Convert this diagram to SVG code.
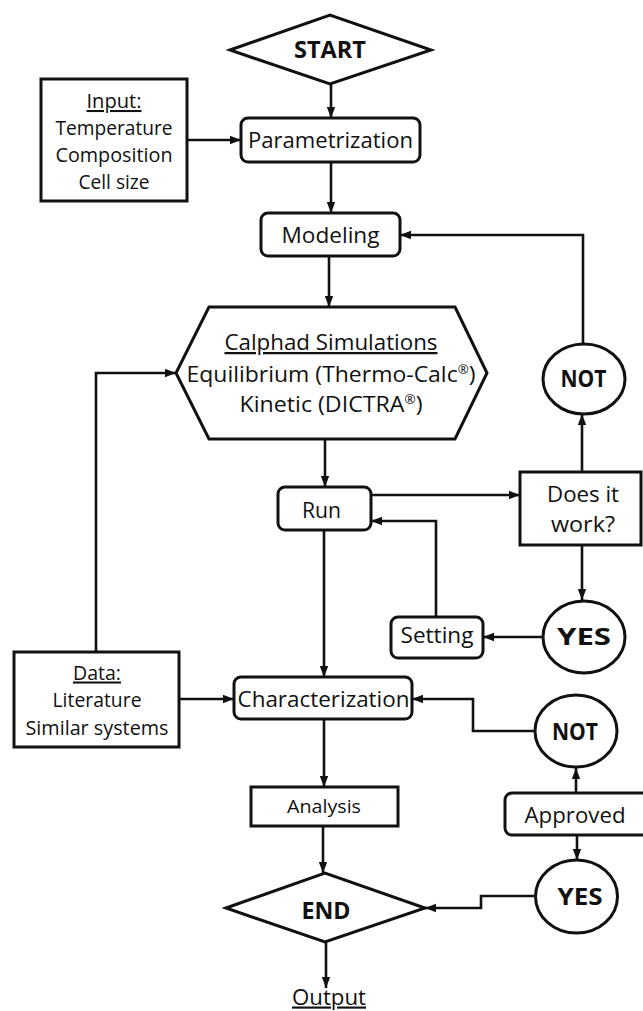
<svg xmlns="http://www.w3.org/2000/svg" width="643" height="1011" viewBox="0 0 643 1011">
<defs>
<marker id="ah" markerUnits="userSpaceOnUse" markerWidth="12" markerHeight="10" refX="11" refY="5" orient="auto">
<path d="M0,0.8 L11,5 L0,9.2 z" fill="#111"/>
</marker>
<style>
.s{fill:#fff;stroke:#111;stroke-width:3}
.c{fill:none;stroke:#111;stroke-width:2.6;marker-end:url(#ah)}
text{font-family:"Open Sans","Liberation Sans",sans-serif;font-size:22.5px;fill:#111;text-anchor:middle}
.b{font-weight:bold;font-size:23px}
.u{text-decoration:underline}
.r{font-size:13px}
.m{font-size:20.5px}
</style>
</defs>
<rect width="643" height="1011" fill="#fff"/>
<g id="connectors">
<path class="c" d="M331,84 V118"/>
<path class="c" d="M187,140 H241"/>
<path class="c" d="M331,162 V213"/>
<path class="c" d="M583,344 V235 H400"/>
<path class="c" d="M329,256 V307"/>
<path class="c" d="M96,652 V373 H176"/>
<path class="c" d="M325,439 V487"/>
<path class="c" d="M371,495 H520"/>
<path class="c" d="M582,472 V414"/>
<path class="c" d="M582,545 V600"/>
<path class="c" d="M544,637 H483"/>
<path class="c" d="M436,617 V521 H371"/>
<path class="c" d="M324,530 V677"/>
<path class="c" d="M179,699 H234"/>
<path class="c" d="M536,731 H473 V699 H412"/>
<path class="c" d="M324,719 V787"/>
<path class="c" d="M323,826 V873"/>
<path class="c" d="M576,793 V768"/>
<path class="c" d="M577,835 V860"/>
<path class="c" d="M535,896 H481 V908 H425"/>
<path class="c" d="M326,942 V988"/>
</g>
<g id="start">
<polygon class="s" points="230,50 330,15 431,50 330,84"/>
<text class="b" x="330" y="58" textLength="72" lengthAdjust="spacingAndGlyphs">START</text>
</g>
<g id="input">
<rect class="s" x="41" y="79" width="146" height="122"/>
<text class="u m" x="114" y="108" textLength="55" lengthAdjust="spacingAndGlyphs">Input:</text>
<text class="m" x="114" y="135" textLength="117" lengthAdjust="spacingAndGlyphs">Temperature</text>
<text class="m" x="114" y="162" textLength="117" lengthAdjust="spacingAndGlyphs">Composition</text>
<text class="m" x="114" y="189" textLength="71" lengthAdjust="spacingAndGlyphs">Cell size</text>
</g>
<g id="parametrization">
<rect class="s" x="241" y="118" width="179" height="44" rx="7"/>
<text x="330.5" y="148.3" textLength="165" lengthAdjust="spacingAndGlyphs">Parametrization</text>
</g>
<g id="modeling">
<rect class="s" x="261" y="213" width="139" height="43" rx="7"/>
<text x="330.5" y="243" textLength="98" lengthAdjust="spacingAndGlyphs">Modeling</text>
</g>
<g id="calphad">
<polygon class="s" points="209,307 455,307 487,373 455,439 209,439 176,373"/>
<text class="u" x="331" y="350" textLength="213" lengthAdjust="spacingAndGlyphs">Calphad Simulations</text>
<text x="331" y="381.7" textLength="289" lengthAdjust="spacingAndGlyphs">Equilibrium (Thermo-Calc<tspan class="r" dy="-8">®</tspan><tspan dy="8">)</tspan></text>
<text x="331" y="411.7" textLength="183" lengthAdjust="spacingAndGlyphs">Kinetic (DICTRA<tspan class="r" dy="-8">®</tspan><tspan dy="8">)</tspan></text>
</g>
<g id="not1">
<ellipse class="s" cx="584" cy="379" rx="41" ry="35"/>
<text class="b" x="583.5" y="387.3" textLength="46" lengthAdjust="spacingAndGlyphs">NOT</text>
</g>
<g id="run">
<rect class="s" x="278" y="487" width="93" height="43" rx="7"/>
<text x="321.5" y="517.5" textLength="39" lengthAdjust="spacingAndGlyphs">Run</text>
</g>
<g id="doesitwork">
<rect class="s" x="520" y="472" width="121" height="73"/>
<text x="583" y="501.7" textLength="72" lengthAdjust="spacingAndGlyphs">Does it</text>
<text x="583" y="531.7" textLength="64" lengthAdjust="spacingAndGlyphs">work?</text>
</g>
<g id="yes1">
<ellipse class="s" cx="584" cy="637" rx="41" ry="36"/>
<text class="b" x="584" y="645" textLength="54" lengthAdjust="spacingAndGlyphs">YES</text>
</g>
<g id="setting">
<rect class="s" x="391" y="617" width="92" height="41" rx="7"/>
<text x="437" y="643" textLength="73" lengthAdjust="spacingAndGlyphs">Setting</text>
</g>
<g id="data">
<rect class="s" x="14" y="652" width="165" height="95"/>
<text class="u m" x="97" y="679.5" textLength="48" lengthAdjust="spacingAndGlyphs">Data:</text>
<text class="m" x="97" y="707" textLength="89" lengthAdjust="spacingAndGlyphs">Literature</text>
<text class="m" x="97" y="734.5" textLength="143" lengthAdjust="spacingAndGlyphs">Similar systems</text>
</g>
<g id="characterization">
<rect class="s" x="234" y="677" width="178" height="42" rx="7"/>
<text x="323.5" y="707" textLength="172" lengthAdjust="spacingAndGlyphs">Characterization</text>
</g>
<g id="not2">
<ellipse class="s" cx="576" cy="731" rx="41" ry="36"/>
<text class="b" x="575" y="739.5" textLength="46" lengthAdjust="spacingAndGlyphs">NOT</text>
</g>
<g id="analysis">
<rect class="s" x="251" y="787" width="147" height="39"/>
<text x="324" y="813" style="font-size:18.5px" textLength="74" lengthAdjust="spacingAndGlyphs">Analysis</text>
</g>
<g id="approved">
<rect class="s" x="505" y="793" width="150" height="42" rx="7"/>
<text x="575" y="823" textLength="101" lengthAdjust="spacingAndGlyphs">Approved</text>
</g>
<g id="yes2">
<ellipse class="s" cx="576.5" cy="896.5" rx="41" ry="36.5"/>
<text class="b" x="580" y="905" textLength="45" lengthAdjust="spacingAndGlyphs">YES</text>
</g>
<g id="end">
<polygon class="s" points="226,908 325,873 425,908 325,942"/>
<text class="b" x="326" y="919" style="font-size:24px" textLength="49" lengthAdjust="spacingAndGlyphs">END</text>
</g>
<g id="output">
<text class="u" x="329" y="1004.5" style="font-size:21.5px" textLength="74" lengthAdjust="spacingAndGlyphs">Output</text>
</g>
</svg>
